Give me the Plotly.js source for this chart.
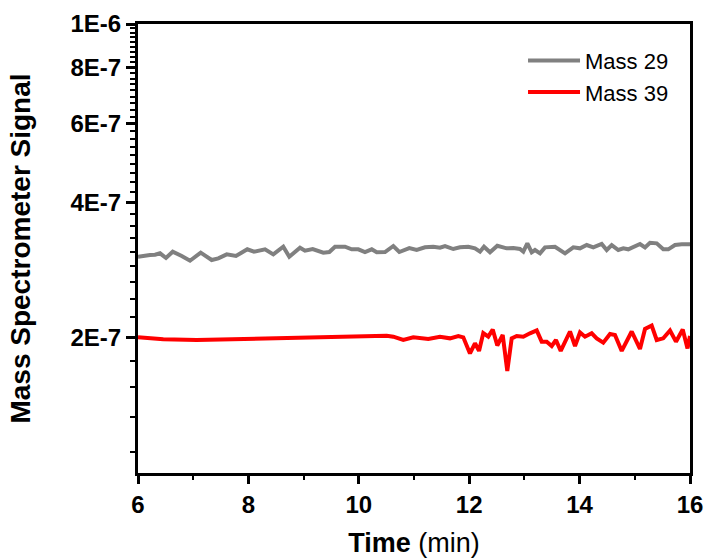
<!DOCTYPE html>
<html>
<head>
<meta charset="utf-8">
<script src="https://cdn.plot.ly/plotly-3.0.1.min.js"></script>
<style>html,body{margin:0;padding:0;background:#fff;}#chart{width:707px;height:558px;}</style>
</head>
<body>
<div id="chart"></div>
<script>
// Mass 29 (gray)
const time29 = [6.0, 6.096, 6.217, 6.308, 6.399, 6.507, 6.629, 6.792, 6.942, 7.136, 7.335, 7.455, 7.607, 7.775, 7.980, 8.101, 8.301, 8.451, 8.632, 8.741, 8.935, 9.025, 9.165, 9.357, 9.466, 9.569, 9.750, 9.871, 9.991, 10.112, 10.234, 10.324, 10.475, 10.625, 10.734, 10.915, 11.049, 11.199, 11.350, 11.471, 11.562, 11.712, 11.833, 11.984, 12.105, 12.196, 12.268, 12.377, 12.509, 12.679, 12.799, 12.920, 12.980, 13.053, 13.132, 13.192, 13.283, 13.373, 13.554, 13.736, 13.886, 14.007, 14.129, 14.248, 14.400, 14.491, 14.582, 14.701, 14.792, 14.882, 14.973, 15.094, 15.185, 15.275, 15.397, 15.516, 15.607, 15.728, 15.850, 16.0];
const mass29 = [3.032e-7, 3.048e-7, 3.058e-7, 3.063e-7, 3.085e-7, 3.012e-7, 3.111e-7, 3.043e-7, 2.970e-7, 3.095e-7, 2.981e-7, 3.007e-7, 3.069e-7, 3.043e-7, 3.149e-7, 3.111e-7, 3.149e-7, 3.069e-7, 3.191e-7, 3.032e-7, 3.175e-7, 3.127e-7, 3.154e-7, 3.095e-7, 3.106e-7, 3.191e-7, 3.191e-7, 3.149e-7, 3.149e-7, 3.106e-7, 3.149e-7, 3.101e-7, 3.106e-7, 3.203e-7, 3.106e-7, 3.170e-7, 3.138e-7, 3.181e-7, 3.191e-7, 3.175e-7, 3.203e-7, 3.154e-7, 3.181e-7, 3.191e-7, 3.165e-7, 3.111e-7, 3.191e-7, 3.101e-7, 3.208e-7, 3.165e-7, 3.170e-7, 3.154e-7, 3.111e-7, 3.247e-7, 3.101e-7, 3.138e-7, 3.085e-7, 3.181e-7, 3.191e-7, 3.085e-7, 3.181e-7, 3.165e-7, 3.219e-7, 3.181e-7, 3.236e-7, 3.138e-7, 3.219e-7, 3.138e-7, 3.165e-7, 3.149e-7, 3.191e-7, 3.236e-7, 3.181e-7, 3.257e-7, 3.247e-7, 3.149e-7, 3.149e-7, 3.219e-7, 3.230e-7, 3.230e-7];

// Mass 39 (red)
const time39 = [6.0, 6.458, 7.063, 7.667, 8.270, 8.875, 9.478, 10.082, 10.505, 10.625, 10.806, 10.987, 11.109, 11.259, 11.471, 11.652, 11.803, 11.893, 12.014, 12.105, 12.178, 12.255, 12.346, 12.426, 12.509, 12.607, 12.690, 12.770, 12.861, 12.980, 13.101, 13.223, 13.313, 13.404, 13.495, 13.572, 13.658, 13.754, 13.826, 13.917, 14.007, 14.098, 14.219, 14.310, 14.429, 14.551, 14.641, 14.763, 14.853, 14.944, 15.094, 15.185, 15.306, 15.397, 15.516, 15.638, 15.746, 15.868, 15.955, 16.0];
const mass39 = [2.005e-7, 1.985e-7, 1.978e-7, 1.985e-7, 1.991e-7, 1.998e-7, 2.005e-7, 2.019e-7, 2.022e-7, 2.012e-7, 1.978e-7, 2.005e-7, 1.995e-7, 1.988e-7, 2.012e-7, 1.995e-7, 2.019e-7, 2.005e-7, 1.846e-7, 1.945e-7, 1.870e-7, 2.050e-7, 2.012e-7, 2.087e-7, 1.923e-7, 2.030e-7, 1.687e-7, 1.995e-7, 2.019e-7, 2.012e-7, 2.047e-7, 2.077e-7, 1.961e-7, 1.961e-7, 1.918e-7, 1.978e-7, 1.870e-7, 1.978e-7, 2.066e-7, 1.918e-7, 2.056e-7, 2.012e-7, 2.047e-7, 1.995e-7, 1.951e-7, 2.040e-7, 2.030e-7, 1.870e-7, 1.961e-7, 2.066e-7, 1.889e-7, 2.093e-7, 2.130e-7, 1.978e-7, 1.995e-7, 2.077e-7, 1.961e-7, 2.087e-7, 1.894e-7, 2.020e-7];

// Axis ticks
const xTickVals = [6, 8, 10, 12, 14, 16];
const xMinorVals = [7, 9, 11, 13, 15];
const yTickVals = [2e-7, 4e-7, 6e-7, 8e-7, 1e-6];
const yTickText = ['2E-7', '4E-7', '6E-7', '8E-7', '1E-6'];
const yMajorStep = 2e-7;
const yMinorPerMajor = 9;

const yMinorVals = [];
for (let k = 1; k * yMajorStep / yMinorPerMajor <= 1e-6 + 1e-12; k++) {
  const v = k * yMajorStep / yMinorPerMajor;
  if (k % yMinorPerMajor !== 0 && v > 1e-7) yMinorVals.push(v);
}

const FONT = 'Liberation Sans, Arial, Helvetica, sans-serif';

const traces = [
  {x: time29, y: mass29, type: 'scatter', mode: 'lines', name: 'Mass 29',
   line: {color: '#808080', width: 4}},
  {x: time39, y: mass39, type: 'scatter', mode: 'lines', name: 'Mass 39',
   line: {color: '#FF0000', width: 4}}
];

const layout = {
  width: 707, height: 558,
  margin: {l: 138, r: 17, t: 24, b: 85},
  paper_bgcolor: '#fff', plot_bgcolor: '#fff',
  font: {family: FONT, color: '#000'},
  showlegend: true,
  legend: {x: 0.6975, y: 0.965, xanchor: 'left', yanchor: 'top', itemwidth: 52,
           bgcolor: 'rgba(0,0,0,0)', font: {family: FONT, size: 22, color: '#000'},
           tracegroupgap: 0},
  xaxis: {
    range: [6, 16], showgrid: false, zeroline: false,
    showline: true, linecolor: '#000', linewidth: 3, mirror: true,
    tickmode: 'array', tickvals: xTickVals,
    ticks: 'outside', ticklen: 8, tickwidth: 3, tickcolor: '#000',
    tickfont: {family: FONT, size: 24, weight: 'bold', color: '#000'},
    minor: {tickmode: 'array', tickvals: xMinorVals, ticks: 'outside', ticklen: 4, tickwidth: 2, tickcolor: '#000', showgrid: false},
    title: {text: '<b>Time</b> (min)', font: {family: FONT, size: 27, color: '#000'}, standoff: 23}
  },
  yaxis: {
    type: 'log', range: [-7, -6], showgrid: false, zeroline: false,
    showline: true, linecolor: '#000', linewidth: 3, mirror: true,
    tickmode: 'array', tickvals: yTickVals, ticktext: yTickText,
    ticks: 'outside', ticklen: 9, tickwidth: 3, tickcolor: '#000',
    tickfont: {family: FONT, size: 24, weight: 'bold', color: '#000'},
    minor: {tickmode: 'array', tickvals: yMinorVals, ticks: 'outside', ticklen: 5, tickwidth: 2, tickcolor: '#000', showgrid: false},
    title: {text: 'Mass Spectrometer Signal', font: {family: FONT, size: 28, weight: 'bold', color: '#000'}, standoff: 32}
  }
};

Plotly.newPlot('chart', traces, layout, {displayModeBar: false, staticPlot: true});
</script>
</body>
</html>
